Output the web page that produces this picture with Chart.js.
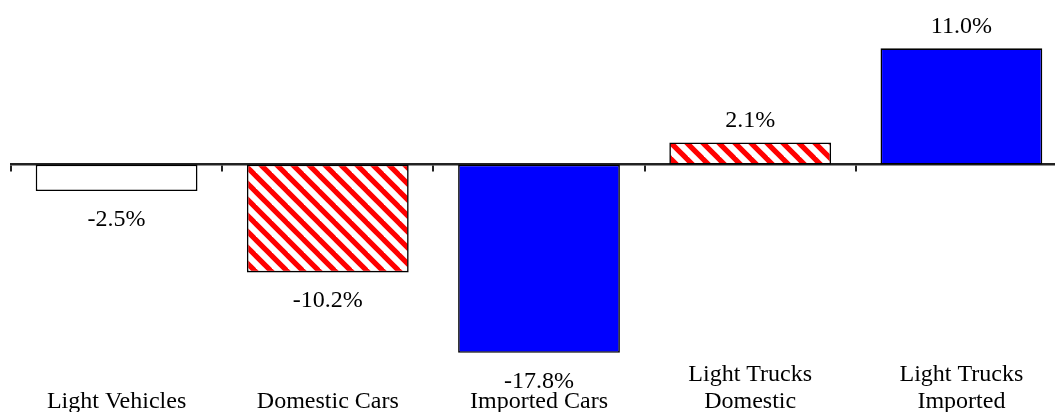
<!DOCTYPE html>
<html>
<head>
<meta charset="utf-8">
<script src="https://cdn.jsdelivr.net/npm/chart.js@4"></script>
<style>
html, body { margin: 0; padding: 0; background: #fff; overflow: hidden; }
#wrap { width: 1068px; height: 415px; position: relative; }
</style>
</head>
<body>
<div id="wrap"><canvas id="c"></canvas></div>
<script>
const categories = [
  ['', 'Light Vehicles'],
  ['', 'Domestic Cars'],
  ['', 'Imported Cars'],
  ['Light Trucks', 'Domestic'],
  ['Light Trucks', 'Imported']
];
const values = [-2.5, -10.2, -17.8, 2.1, 11.0];
const valueLabels = ['-2.5%', '-10.2%', '-17.8%', '2.1%', '11.0%'];
const fillKinds = ['white', 'hatch', 'blue', 'hatch', 'blue'];

function makeHatch() {
  const s = 16;
  const c = document.createElement('canvas');
  c.width = s; c.height = s;
  const g = c.getContext('2d');
  g.fillStyle = '#ffffff';
  g.fillRect(0, 0, s, s);
  g.strokeStyle = '#ff0000';
  g.lineWidth = 5.2;
  for (const off of [-s, 0, s]) {
    g.beginPath();
    g.moveTo(off - 2, -2);
    g.lineTo(off + s + 2, s + 2);
    g.stroke();
  }
  return g.createPattern(c, 'repeat');
}
const hatch = makeHatch();
const colors = fillKinds.map(k => k === 'white' ? '#ffffff' : (k === 'blue' ? '#0000ff' : hatch));

const FONT = '"Liberation Serif", "Times New Roman", serif';

const valueLabelPlugin = {
  id: 'valueLabels',
  afterDatasetsDraw(chart) {
    const ctx = chart.ctx;
    const meta = chart.getDatasetMeta(0);
    ctx.save();
    ctx.font = '24px ' + FONT;
    ctx.fillStyle = '#000';
    ctx.textAlign = 'center';
    ctx.textBaseline = 'alphabetic';
    meta.data.forEach((bar, i) => {
      const v = values[i];
      const y = v >= 0 ? bar.y - 15 : bar.y + 35;
      ctx.fillText(valueLabels[i], bar.x, y);
    });
    ctx.restore();
  }
};

new Chart(document.getElementById('c'), {
  type: 'bar',
  data: {
    labels: categories,
    datasets: [{
      data: values,
      backgroundColor: colors,
      borderColor: '#000',
      borderWidth: 1.6,
      borderSkipped: false,
      categoryPercentage: 1.0,
      barPercentage: 0.766,
      xAxisID: 'x'
    }]
  },
  options: {
    responsive: true,
    maintainAspectRatio: false,
    animation: false,
    devicePixelRatio: 1,
    layout: { padding: { left: 11, right: 1, top: 0, bottom: 0 } },
    plugins: { legend: { display: false }, tooltip: { enabled: false } },
    scales: {
      y: {
        display: false,
        min: -18.58,
        max: 15.57
      },
      x: {
        type: 'category',
        position: 'bottom',
        offset: true,
        grid: { display: false, drawTicks: false },
        border: { display: false },
        ticks: {
          padding: 0,
          maxRotation: 0,
          autoSkip: false,
          color: '#000',
          font: { family: FONT, size: 24, lineHeight: '27px' }
        }
      },
      x2: {
        type: 'category',
        position: { y: 0 },
        offset: true,
        grid: {
          offset: true,
          drawOnChartArea: false,
          drawTicks: true,
          tickLength: 6,
          color: '#222',
          lineWidth: 2
        },
        border: { display: true, color: '#222', width: 2.5 },
        ticks: { color: 'rgba(0,0,0,0)', autoSkip: false, maxRotation: 0 }
      }
    }
  },
  plugins: [valueLabelPlugin]
});
</script>
</body>
</html>
